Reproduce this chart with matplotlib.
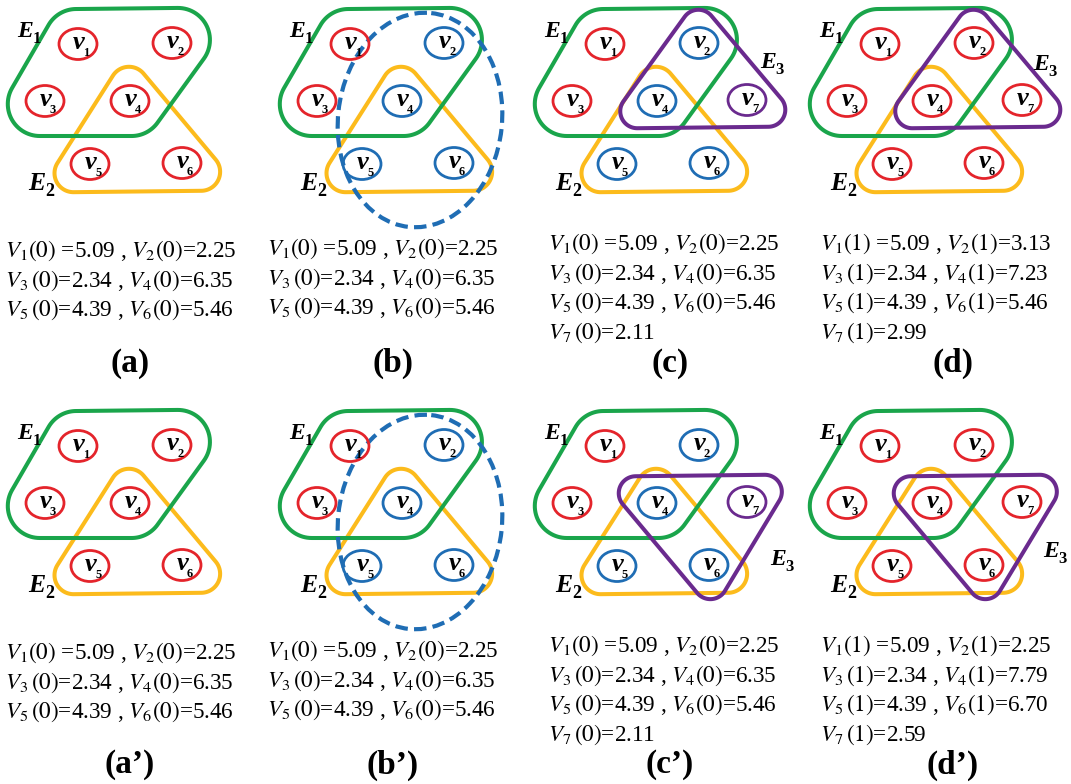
import numpy as np
import matplotlib.pyplot as plt
from matplotlib.patches import Ellipse, Polygon

plt.rcParams['font.family'] = 'Liberation Serif'
plt.rcParams['mathtext.fontset'] = 'stix'

# Colours
RED = '#e4242b'
BLUE = '#1f6db4'
GREEN = '#1aa54b'
YELLOW = '#fcbb1c'
PURPLE = '#6a2a8e'
vcol = {'r': RED, 'b': BLUE, 'p': PURPLE}

# Vertex layout inside one panel (pixel units, y pointing down)
vx = [78, 172, 45, 130, 90, 182, 220]
vy = [44, 43, 101, 101, 164, 163, 100]

# Panel origins
col_x = [0, 272, 527, 802]
row_y = [0, 402]

# Hyperedges (vertex indices)
e1 = [0, 1, 2, 3]
e2 = [3, 4, 5]
e3_up = [1, 3, 6]
e3_down = [3, 5, 6]

# Vertex colours per panel
colors_a = 'rrrrrr'
colors_b = 'rbrbbb'
colors_c = 'rbrbbbp'
colors_d = 'rrrrrrr'

# Vertex values V_i(t)
vals_a = [5.09, 2.25, 2.34, 6.35, 4.39, 5.46]
vals_c = [5.09, 2.25, 2.34, 6.35, 4.39, 5.46, 2.11]
vals_d = [5.09, 3.13, 2.34, 7.23, 4.39, 5.46, 2.99]
vals_d2 = [5.09, 2.25, 2.34, 7.79, 4.39, 6.70, 2.59]

labels = ['(a)', '(b)', '(c)', '(d)', '(a’)', '(b’)', '(c’)', '(d’)']
steps = [0, 0, 0, 1, 0, 0, 0, 1]
panel_colors = [colors_a, colors_b, colors_c, colors_d,
                colors_a, colors_b, colors_c, colors_d]
panel_vals = [vals_a, vals_a, vals_c, vals_d, vals_a, vals_a, vals_c, vals_d2]
panel_e3 = [None, None, e3_up, e3_up, None, None, e3_down, e3_down]
e3_label = [None, None, (233, 68), (231, 70), None, None, (243, 163), (241, 155)]
dashed = [False, True, False, False, False, True, False, False]
text_x = [5, 267, 548, 820]
text_y = [257, 255, 250, 250]
label_x = [130, 393, 670, 953]


def padded_hull(idx, ox, oy, d, rc, n=30):
    """Convex hull of the member vertices, offset by d and rounded by rc."""
    pts = np.array([[vx[i] + ox, vy[i] + oy] for i in idx], dtype=float)
    c = pts.mean(axis=0)
    pts = pts[np.argsort(np.arctan2(pts[:, 1] - c[1], pts[:, 0] - c[0]))]
    k = len(pts)
    normals = []
    for i in range(k):
        e = pts[(i + 1) % k] - pts[i]
        e = e / np.hypot(*e)
        normals.append(np.array([e[1], -e[0]]))
    out = []
    for i in range(k):
        n0, n1 = normals[i - 1], normals[i]
        bis = (n0 + n1) / np.hypot(*(n0 + n1))
        q = pts[i] + bis * d / np.dot(bis, n0)
        a0 = np.arctan2(n0[1], n0[0])
        a1 = np.arctan2(n1[1], n1[0])
        if a1 < a0:
            a1 += 2 * np.pi
        t = np.linspace(a0, a1, n)
        out.append(q + rc * np.column_stack([np.cos(t), np.sin(t)]))
    return np.vstack(out)


def edge(ax, idx, ox, oy, color, d, rc):
    ax.add_patch(Polygon(padded_hull(idx, ox, oy, d, rc), closed=True,
                         fill=False, ec=color, lw=2.9, joinstyle='round'))


def e_label(ax, x, y, k, size):
    ax.text(x, y, 'E', fontsize=size, style='italic', weight='bold',
            ha='left', va='baseline')
    ax.text(x + size * 0.92, y + 6, str(k), fontsize=size * 0.7,
            weight='bold', ha='left', va='baseline')


fig = plt.figure(figsize=(10.71, 7.84), dpi=100)
ax = fig.add_axes([0, 0, 1, 1])
ax.set_xlim(0, 1071)
ax.set_ylim(784, 0)
ax.axis('off')

for p in range(8):
    ox = col_x[p % 4]
    oy = row_y[p // 4]

    # hyperedges
    edge(ax, e2, ox, oy, YELLOW, 9, 19)
    edge(ax, e1, ox, oy, GREEN, 3, 32)
    if panel_e3[p] is not None:
        edge(ax, panel_e3[p], ox, oy, PURPLE, 10, 17)
        ex, ey = e3_label[p]
        e_label(ax, ox + ex, oy + ey, 3, 17)
    if dashed[p]:
        ax.add_patch(Ellipse((ox + 148, oy + 120), 164, 215, angle=6,
                             fill=False, ec=BLUE, lw=3,
                             linestyle=(0, (3.0, 1.5))))
    e_label(ax, ox + 17, oy + 37, 1, 17)
    e_label(ax, ox + 28, oy + 190, 2, 18.5)

    # vertices
    for i, c in enumerate(panel_colors[p]):
        x, y = vx[i] + ox, vy[i] + oy
        ax.add_patch(Ellipse((x, y), 38, 31, fill=False, ec=vcol[c], lw=2))
        ax.text(x + 1, y + 5, 'v', fontsize=19, style='italic', weight='bold',
                ha='center', va='baseline')
        ax.text(x + 5, y + 12, str(i + 1), fontsize=9, weight='bold',
                ha='left', va='baseline')

    # vertex values
    v = panel_vals[p]
    t = steps[p]
    lines = [rf'$V_1({t})$ ={v[0]:.2f} , $V_2({t})$={v[1]:.2f}',
             rf'$V_3\,({t})$={v[2]:.2f} , $V_4({t})$={v[3]:.2f}',
             rf'$V_5\,({t})$={v[4]:.2f} , $V_6({t})$={v[5]:.2f}']
    if len(v) > 6:
        lines.append(rf'$V_7\,({t})$={v[6]:.2f}')
    for j, s in enumerate(lines):
        ax.text(text_x[p % 4], oy + text_y[p % 4] + 29.5 * j, s, fontsize=16.7,
                ha='left', va='baseline')

    ax.text(label_x[p % 4], oy + 363, labels[p], fontsize=24, weight='bold',
            ha='center', va='center')

fig.savefig('out.png', dpi=100)
